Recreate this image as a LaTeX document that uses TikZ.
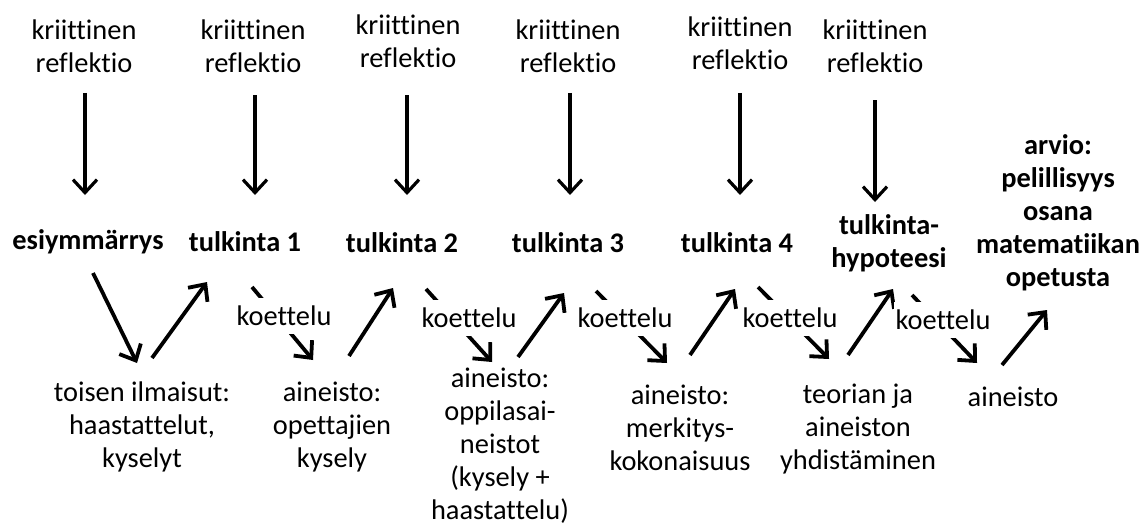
\documentclass[tikz,border=0pt]{standalone}
\usepackage{fontspec}
\setmainfont[Ligatures=NoCommon]{Carlito}
\usetikzlibrary{arrows.meta,calc}
\begin{document}
\begin{tikzpicture}[x=0.5pt,y=-0.5pt,
  txt/.style={align=center,inner sep=0pt,font=\fontsize{14.2}{16.5}\selectfont},
  bld/.style={txt,font=\fontsize{14.2}{16.5}\selectfont\bfseries},
  arr/.style={line width=1.9pt,-{Straight Barb[length=6.5pt,width=12pt]}},
  darr/.style={line width=1.6pt,-{Straight Barb[length=6.5pt,width=12pt]}},
  lbl/.style={txt,fill=white,inner xsep=1pt,inner ysep=3.5pt,text height=10pt,text depth=1pt}]
\useasboundingbox (0,0) rectangle (1143,524);
% critical reflection labels
\node[txt] (r1) at (84,46) {kriittinen\\reflektio};
\node[txt] (r2) at (253,46) {kriittinen\\reflektio};
\node[txt] (r3) at (408,41) {kriittinen\\reflektio};
\node[txt] (r4) at (568,46) {kriittinen\\reflektio};
\node[txt] (r5) at (740,43) {kriittinen\\reflektio};
\node[txt] (r6) at (875,46) {kriittinen\\reflektio};
% interpretations
\node[bld] (b0) at (88,242) {esiymmärrys};
\node[bld] (b1) at (245,242) {tulkinta 1};
\node[bld] (b2) at (402,243) {tulkinta 2};
\node[bld] (b3) at (568,243) {tulkinta 3};
\node[bld] (b4) at (737,243) {tulkinta 4};
\node[bld] (b5) at (889,243) {tulkinta-\\hypoteesi};
\node[bld] (b6) at (1058,213) {arvio:\\pelillisyys\\osana\\matematiikan\\opetusta};
% data
\node[txt] (a0) at (142,427) {toisen ilmaisut:\\haastattelut,\\kyselyt};
\node[txt] (a1) at (332,427) {aineisto:\\opettajien\\kysely};
\node[txt] (a2) at (500,446) {aineisto:\\oppilasai-\\neistot\\(kysely +\\haastattelu)};
\node[txt] (a3) at (680,428) {aineisto:\\merkitys-\\kokonaisuus};
\node[txt] (a4) at (858,429) {teorian ja\\aineiston\\yhdistäminen};
\node[txt] (a5) at (1013,397) {aineisto};
% down arrows
\draw[darr] ($(r1)+(1,47)$) -- ($(b0)+(-3,-47)$);
\draw[darr] ($(r2)+(2,49)$) -- ($(b1)+(10,-47)$);
\draw[darr] ($(r3)+(-1,54)$) -- ($(b2)+(5,-48)$);
\draw[darr] ($(r4)+(2,47)$) -- ($(b3)+(2,-48)$);
\draw[darr] ($(r5)+(0,50)$) -- ($(b4)+(3,-48)$);
\draw[darr] ($(r6)+(0,54)$) -- ($(b5)+(-14,-41)$);
% zigzag
\draw[arr] ($(b0)+(5,31)$) -- ($(a0)+(-5,-64)$);
\draw[arr] ($(a0)+(10,-69)$) -- ($(b1)+(-38,40)$);
\draw[arr] ($(b1)+(7,45)$) -- ($(a1)+(-19,-67)$);
\draw[arr] ($(a1)+(17,-71)$) -- ($(b2)+(-9,45)$);
\draw[arr] ($(b2)+(24,46)$) -- ($(a2)+(-8,-84)$);
\draw[arr] ($(a2)+(18,-89)$) -- ($(b3)+(-4,50)$);
\draw[arr] ($(b3)+(28,48)$) -- ($(a3)+(-13,-65)$);
\draw[arr] ($(a3)+(10,-73)$) -- ($(b4)+(-2,46)$);
\draw[arr] ($(b4)+(21,44)$) -- ($(a4)+(-29,-70)$);
\draw[arr] ($(a4)+(-10,-74)$) -- ($(b5)+(4,46)$);
\draw[arr] ($(b5)+(23,52)$) -- ($(a5)+(-36,-34)$);
\draw[arr] ($(a5)+(-11,-32)$) -- ($(b6)+(-11,97)$);
% koettelu labels
\node[lbl] (k1) at (284,316) {koettelu};
\node[lbl] (k2) at (469,318) {koettelu};
\node[lbl] (k3) at (625,318) {koettelu};
\node[lbl] (k4) at (790,318) {koettelu};
\node[lbl] (k5) at (943,320) {koettelu};
\end{tikzpicture}
\end{document}
